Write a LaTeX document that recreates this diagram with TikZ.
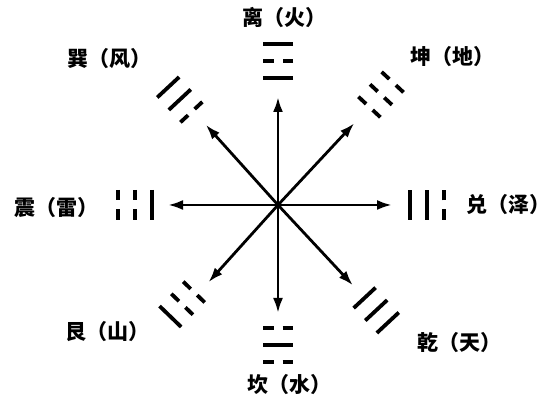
\documentclass[tikz,border=0pt]{standalone}
\usepackage{fontspec}
\newfontfamily\cjk{Noto Sans CJK SC}
\usetikzlibrary{arrows.meta,calc}
\tikzset{
  arr/.style={line width=2.8pt, -{Latex[length=15pt,width=10pt]}},
  yao/.style={line width=3.8pt},
  lbl/.style={font=\cjk\bfseries\fontsize{21}{25}\selectfont, inner sep=0pt}
}
\newcommand{\trig}[3]{%
  \begin{scope}[shift={(O)}, rotate=#1]
    \foreach \b [count=\i from 0] in {#3} {
      \pgfmathsetmacro\rr{#2+\i*17}
      \ifnum\b=1
        \draw[yao] (\rr,-15) -- (\rr,15);
      \else
        \draw[yao] (\rr,-15) -- (\rr,-4.5);
        \draw[yao] (\rr,4.5) -- (\rr,15);
      \fi
    }
  \end{scope}}
\begin{document}
\begin{tikzpicture}[x=1pt,y=1pt]
\useasboundingbox (0,0) rectangle (552,398);
\coordinate (O) at (278,193);
% arrow tips
\coordinate (tN) at ($(O)+(90:108)$);
\coordinate (tS) at ($(O)+(-90:108)$);
\coordinate (tE) at ($(O)+(0:114)$);
\coordinate (tW) at ($(O)+(180:110)$);
\coordinate (tNE) at ($(O)+(47:112)$);
\coordinate (tNW) at ($(O)+(132:108)$);
\coordinate (tSW) at ($(O)+(228:104)$);
\coordinate (tSE) at ($(O)+(-47:110)$);
\foreach \t in {tN,tS,tE,tW,tNE,tNW,tSW,tSE} \draw[arr] (O) -- (\t);
% trigrams (inner line first)
\trig{90}{127}{1,0,1}
\trig{47}{134}{0,0,0}
\trig{0}{132}{1,1,0}
\trig{-47}{127}{1,1,1}
\trig{-90}{123}{0,1,0}
\trig{-134}{121}{0,0,1}
\trig{180}{126}{1,0,0}
\trig{133}{127}{0,1,1}
% labels
\node[lbl] (li) at (284,381) {离（火）};
\node[lbl] (kun) at (452,341) {坤（地）};
\node[lbl] (dui) at (508,193) {兑（泽）};
\node[lbl] (qian) at (459,55) {乾（天）};
\node[lbl] (kan) at (289,13) {坎（水）};
\node[lbl] (gen) at (107,66) {艮（山）};
\node[lbl] (zhen) at (57,190) {震（雷）};
\node[lbl] (xun) at (109,339) {巽（风）};
\end{tikzpicture}
\end{document}
